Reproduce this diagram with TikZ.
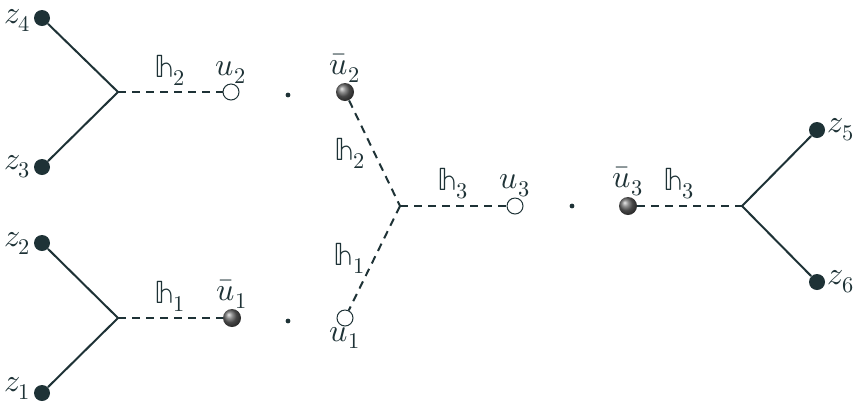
\documentclass[tikz,border=0pt]{standalone}
\usepackage{unicode-math}
\setmathfont{Latin Modern Math}
\usetikzlibrary{shadings}
\definecolor{ink}{RGB}{30,50,54}
\begin{document}
\begin{tikzpicture}[x=0.5pt,y=-0.5pt,
  every node/.style={font=\fontsize{16}{19}\selectfont, text=ink},
  zdot/.style={circle, fill=ink, inner sep=0pt, minimum size=8pt},
  hole/.style={circle, draw=ink, fill=white, line width=0.5pt, inner sep=0pt, minimum size=8pt},
  ball/.style={circle, shading=ball, ball color=gray!80!black, inner sep=0pt, minimum size=9pt},
  tiny/.style={circle, fill=ink, inner sep=0pt, minimum size=2.4pt},
  leg/.style={draw=ink, line width=1pt},
  prop/.style={draw=ink, line width=1pt, dash pattern=on 4pt off 3pt},
  lab/.style={inner sep=1pt}
]
\useasboundingbox (0,0) rectangle (854,403);
% junctions
\coordinate (jA) at (118,92);
\coordinate (jB) at (118,318);
\coordinate (jC) at (400,206);
\coordinate (jD) at (742,206);
% external points
\node[zdot, label={[lab,yshift=-1pt]left:$z_4$}] (z4) at (42,18) {};
\node[zdot, label={[lab]left:$z_3$}] (z3) at (42,167) {};
\node[zdot, label={[lab]left:$z_2$}] (z2) at (42,243) {};
\node[zdot, label={[lab,yshift=2.5pt]left:$z_1$}] (z1) at (42,393) {};
\node[zdot, label={[lab]right:$z_5$}] (z5) at (817,130) {};
\node[zdot, label={[lab]right:$z_6$}] (z6) at (817,282) {};
% legs
\draw[leg] (z4) -- (jA) -- (z3);
\draw[leg] (z2) -- (jB) -- (z1);
\draw[leg] (z5) -- (jD) -- (z6);
% points
\node[hole, label={[lab,inner sep=0pt]above:$u_2$}] (u2) at (231,92) {};
\node[ball, label={[lab,inner sep=0pt]above:$\bar u_1$}] (ub1) at (232,318) {};
\node[ball, label={[lab,inner sep=0pt]above:$\bar u_2$}] (ub2) at (345,92) {};
\node[hole, label={[lab,inner sep=0pt]below:$u_1$}] (u1) at (345,318) {};
\node[hole, label={[lab,inner sep=0pt]above:$u_3$}] (u3) at (515,206) {};
\node[ball, label={[lab,inner sep=0pt]above:$\bar u_3$}] (ub3) at (628,206) {};
\node[tiny] (d1) at (288,95) {};
\node[tiny] (d2) at (288,321) {};
\node[tiny] (d3) at (572,206) {};
% propagators
\draw[prop] (jA) -- node[lab, above=2pt] {$\mathbb{h}_2$} (u2);
\draw[prop] (jB) -- node[lab, above=2pt] {$\mathbb{h}_1$} (ub1);
\draw[prop] (ub2) -- node[lab, left=3pt] {$\mathbb{h}_2$} (jC);
\draw[prop] (jC) -- node[lab, left=3pt] {$\mathbb{h}_1$} (u1);
\draw[prop] (jC) -- node[lab, above=2pt] {$\mathbb{h}_3$} (u3);
\draw[prop] (ub3) -- node[lab, above=2pt, pos=0.4] {$\mathbb{h}_3$} (jD);
\end{tikzpicture}
\end{document}
